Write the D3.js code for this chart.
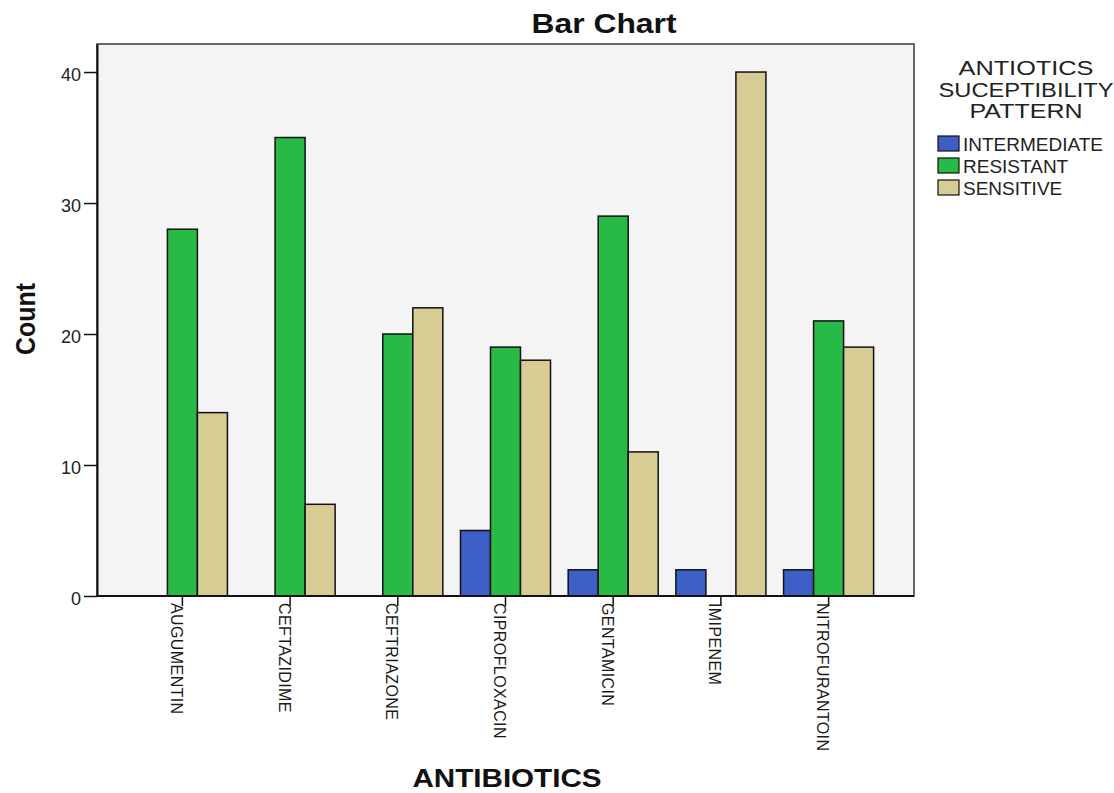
<!DOCTYPE html>
<html>
<head>
<meta charset="utf-8">
<script src="https://cdn.jsdelivr.net/npm/d3@7"></script>
<style>
  body { margin: 0; background: #fff; }
  svg { display: block; font-family: Arial, "Liberation Sans", sans-serif; }
</style>
</head>
<body>
<svg id="chart" width="1114" height="793"></svg>
<script>
const categories = ["AUGUMENTIN", "CEFTAZIDIME", "CEFTRIAZONE", "CIPROFLOXACIN", "GENTAMICIN", "IMIPENEM", "NITROFURANTOIN"];
const seriesNames = ["INTERMEDIATE", "RESISTANT", "SENSITIVE"];
const intermediate = [0, 0, 0, 5, 2, 2, 2];
const resistant    = [28, 35, 20, 19, 29, 0, 21];
const sensitive    = [14, 7, 22, 18, 11, 40, 19];
const yTicks = [0, 10, 20, 30, 40];
const legendTitle = ["ANTIOTICS", "SUCEPTIBILITY", "PATTERN"];
const colors = ["#3d5ec6", "#28b947", "#d7cc94"];

const seriesValues = [intermediate, resistant, sensitive];
const svg = d3.select("#chart");

const plot = { left: 97, right: 914, top: 44, bottom: 596 };

const x0 = d3.scaleBand().domain(categories)
  .range([plot.left, plot.right]).paddingInner(0.164).paddingOuter(0.375);
const x1 = d3.scaleBand().domain(seriesNames).range([0, x0.bandwidth()]);
const y = d3.scaleLinear().domain([0, 42.14]).range([plot.bottom, plot.top]);
const color = d3.scaleOrdinal().domain(seriesNames).range(colors);

// plot background + frame
svg.append("rect")
  .attr("x", plot.left).attr("y", plot.top)
  .attr("width", plot.right - plot.left).attr("height", plot.bottom - plot.top)
  .attr("fill", "#f4f4f4").attr("stroke", "#5a5a5a").attr("stroke-width", 1.8);

// bars
const rows = categories.map((c, i) => ({ cat: c, vals: seriesNames.map((s, j) => ({ s, v: seriesValues[j][i] })) }));
const groups = svg.append("g").selectAll("g").data(rows).join("g")
  .attr("transform", d => `translate(${x0(d.cat)},0)`);
groups.selectAll("rect").data(d => d.vals.filter(e => e.v > 0)).join("rect")
  .attr("x", d => x1(d.s))
  .attr("y", d => y(d.v))
  .attr("width", x1.bandwidth())
  .attr("height", d => y(0) - y(d.v))
  .attr("fill", d => color(d.s))
  .attr("stroke", "#111").attr("stroke-width", 1.5);

// y axis
const yAxis = d3.axisLeft(y).tickValues(yTicks).tickSize(13).tickSizeOuter(0).tickPadding(3).tickFormat(d3.format("d"));
const yg = svg.append("g").attr("transform", `translate(${plot.left},0)`).call(yAxis);
yg.select(".domain").attr("stroke", "#111").attr("stroke-width", 2);
yg.selectAll(".tick line").attr("stroke", "#111").attr("stroke-width", 1.5);
yg.selectAll(".tick text").attr("font-size", 18).attr("fill", "#222")
  .attr("font-family", "Arial, 'Liberation Sans', sans-serif").attr("dy", "0.45em");

// x axis
const xg = svg.append("g").attr("transform", `translate(0,${plot.bottom})`);
xg.append("line").attr("x1", plot.left).attr("x2", plot.right).attr("y1", 0).attr("y2", 0)
  .attr("stroke", "#111").attr("stroke-width", 2);
const xt = xg.selectAll("g.xtick").data(categories).join("g").attr("class", "xtick")
  .attr("transform", d => `translate(${x0(d) + x0.bandwidth() / 2},0)`);
xt.append("line").attr("y1", 0).attr("y2", 10).attr("stroke", "#111").attr("stroke-width", 1.5);
xt.append("text")
  .attr("transform", "translate(0,7) rotate(90)")
  .attr("x", 0).attr("y", 11.5)
  .attr("font-size", 16).attr("letter-spacing", 0.4).attr("fill", "#1a1a1a")
  .text(d => d);

// titles
svg.append("text").attr("x", 604).attr("y", 33).attr("text-anchor", "middle")
  .attr("font-size", 27).attr("font-weight", "bold").attr("fill", "#111")
  .attr("textLength", 145).attr("lengthAdjust", "spacingAndGlyphs")
  .text("Bar Chart");
svg.append("text").attr("x", 507).attr("y", 787).attr("text-anchor", "middle")
  .attr("font-size", 25).attr("font-weight", "bold").attr("fill", "#111")
  .attr("textLength", 189).attr("lengthAdjust", "spacingAndGlyphs")
  .text("ANTIBIOTICS");
svg.append("text").attr("transform", "translate(35,319) rotate(-90)")
  .attr("text-anchor", "middle")
  .attr("font-size", 28).attr("font-weight", "bold").attr("fill", "#111")
  .attr("textLength", 72).attr("lengthAdjust", "spacingAndGlyphs")
  .text("Count");

// legend
const legendTitleWidths = [135, 175, 113];
const lg = svg.append("g");
lg.selectAll("text.lt").data(legendTitle).join("text").attr("class", "lt")
  .attr("x", 1026).attr("y", (d, i) => 75 + i * 21.5)
  .attr("text-anchor", "middle").attr("font-size", 20).attr("fill", "#222")
  .attr("textLength", (d, i) => legendTitleWidths[i]).attr("lengthAdjust", "spacingAndGlyphs")
  .text(d => d);
const items = lg.selectAll("g.li").data(seriesNames).join("g").attr("class", "li")
  .attr("transform", (d, i) => `translate(938,${136 + i * 22})`);
items.append("rect").attr("width", 21).attr("height", 15)
  .attr("fill", d => color(d)).attr("stroke", "#111").attr("stroke-width", 1.2);
items.append("text").attr("x", 25).attr("y", 15)
  .attr("font-size", 19).attr("fill", "#222").text(d => d);
</script>
</body>
</html>
